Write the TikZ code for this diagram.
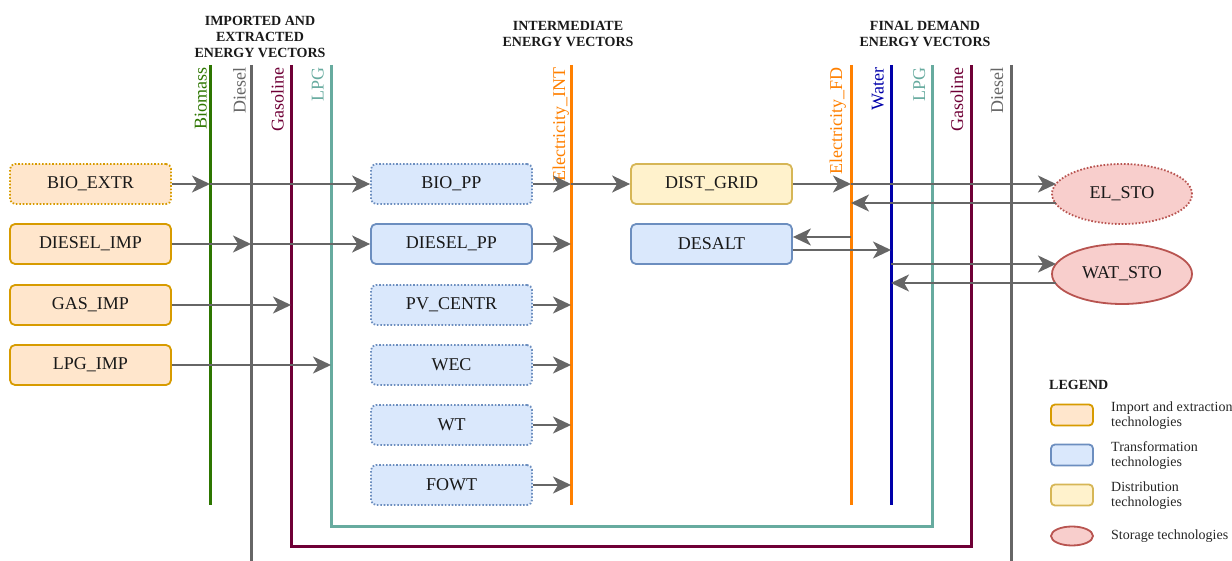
\documentclass[tikz,border=0pt]{standalone}
\usepackage{fontspec}
\setmainfont{Liberation Serif}
\usetikzlibrary{arrows.meta,calc,shapes.geometric}
\definecolor{arrgray}{HTML}{666666}
\definecolor{biog}{HTML}{2D7600}
\definecolor{gasm}{HTML}{6F0036}
\definecolor{lpgc}{HTML}{67AB9F}
\definecolor{elec}{HTML}{FF8000}
\definecolor{watc}{HTML}{0000AA}
\definecolor{impF}{HTML}{FFE6CC}
\definecolor{impD}{HTML}{D79B00}
\definecolor{trF}{HTML}{DAE8FC}
\definecolor{trD}{HTML}{6C8EBF}
\definecolor{diF}{HTML}{FFF2CC}
\definecolor{diD}{HTML}{D6B656}
\definecolor{stF}{HTML}{F8CECC}
\definecolor{stD}{HTML}{B85450}
\begin{document}
\begin{tikzpicture}[x=1pt,y=-1pt,
  tbox/.style={rounded corners=5pt, line width=1.8pt, minimum width=161pt, minimum height=40pt, inner sep=0pt, font=\fontsize{18}{20}\selectfont, text=black!90},
  imp/.style={tbox, draw=impD, fill=impF},
  trf/.style={tbox, draw=trD, fill=trF},
  dis/.style={tbox, draw=diD, fill=diF},
  sto/.style={ellipse, line width=1.8pt, draw=stD, fill=stF, minimum width=140pt, minimum height=60pt, inner sep=0pt, font=\fontsize{18}{20}\selectfont, text=black!90},
  dotb/.style={dash pattern=on 1.6pt off 1.8pt},
  bus/.style={line width=3pt},
  vlab/.style={rotate=90, anchor=base east, inner sep=0pt, font=\fontsize{18}{20}\selectfont},
  arr/.style={line width=2pt, draw=arrgray, -{Stealth[length=18pt,width=17pt,inset=5pt]}},
  hdr/.style={font=\bfseries\fontsize{14}{16}\selectfont, align=center, inner sep=0pt, text=black!90},
  legt/.style={anchor=west, align=left, inner sep=0pt, font=\fontsize{14}{15}\selectfont, text=black!85},
]
\useasboundingbox (0,0) rectangle (1232,561);

% bus coordinates
\coordinate (bioT) at (210,65);  \coordinate (bioB) at (210,505);
\coordinate (dslT) at (251,65);  \coordinate (dslB) at (251,561);
\coordinate (gasT) at (291,65);  \coordinate (gasB) at (291,546);
\coordinate (gasB2) at (971,546); \coordinate (gasT2) at (971,65);
\coordinate (lpgT) at (331,65);  \coordinate (lpgB) at (331,526);
\coordinate (lpgB2) at (932,526); \coordinate (lpgT2) at (932,65);
\coordinate (eintT) at (571,65); \coordinate (eintB) at (571,505);
\coordinate (efdT) at (851,65);  \coordinate (efdB) at (851,505);
\coordinate (watT) at (891,65);  \coordinate (watB) at (891,505);
\coordinate (dsl2T) at (1011,65); \coordinate (dsl2B) at (1011,561);

% headers
\node[hdr] (h1) at (260,37) {IMPORTED AND\\EXTRACTED\\ENERGY VECTORS};
\node[hdr] (h2) at (568,34) {INTERMEDIATE\\ENERGY VECTORS};
\node[hdr] (h3) at (925,34) {FINAL DEMAND\\ENERGY VECTORS};

% buses
\draw[bus, biog] (bioT) -- (bioB);
\draw[bus, arrgray] (dslT) -- (dslB);
\draw[bus, gasm, line join=miter] (gasT) -- (gasB) -- (gasB2) -- (gasT2);
\draw[bus, lpgc, line join=miter] (lpgT) -- (lpgB) -- (lpgB2) -- (lpgT2);
\draw[bus, elec] (eintT) -- (eintB);
\draw[bus, elec] (efdT) -- (efdB);
\draw[bus, watc] (watT) -- (watB);
\draw[bus, arrgray] (dsl2T) -- (dsl2B);

% bus labels
\node[vlab, text=biog] (lbio) at (206.5,67.5) {Biomass};
\node[vlab, text=arrgray] (ldsl) at (245.5,67.5) {Diesel};
\node[vlab, text=gasm] (lgas) at (283.5,67.5) {Gasoline};
\node[vlab, text=lpgc] (llpg) at (323.5,67.5) {LPG};
\node[vlab, text=elec] (leint) at (565,67.5) {Electricity\_INT};
\node[vlab, text=elec] (lefd) at (842,67.5) {Electricity\_FD};
\node[vlab, text=watc] (lwat) at (883.5,67.5) {Water};
\node[vlab, text=lpgc] (llpg2) at (925,67.5) {LPG};
\node[vlab, text=gasm] (lgas2) at (963,67.5) {Gasoline};
\node[vlab, text=arrgray] (ldsl2) at (1003,67.5) {Diesel};

% import boxes
\node[imp, dotb] (bioextr) at (90.5,184) {BIO\_EXTR};
\node[imp] (dieselimp) at (90.5,244) {DIESEL\_IMP};
\node[imp] (gasimp) at (90.5,305) {GAS\_IMP};
\node[imp] (lpgimp) at (90.5,365) {LPG\_IMP};

% transformation boxes
\node[trf, dotb] (biopp) at (451.5,184) {BIO\_PP};
\node[trf] (dieselpp) at (451.5,244) {DIESEL\_PP};
\node[trf, dotb] (pv) at (451.5,305) {PV\_CENTR};
\node[trf, dotb] (wec) at (451.5,365) {WEC};
\node[trf, dotb] (wt) at (451.5,425) {WT};
\node[trf, dotb] (fowt) at (451.5,485) {FOWT};

% distribution / desalination
\node[dis] (distgrid) at (711.5,184) {DIST\_GRID};
\node[trf] (desalt) at (711.5,244) {DESALT};

% storage
\node[sto, dotb] (elsto) at (1122,194) {EL\_STO};
\node[sto] (watsto) at (1122,274) {WAT\_STO};

% arrows
\draw[arr] (bioextr.east) -- (bioextr.east -| bioT);
\draw[arr] (bioextr.east -| bioT) -- (biopp.west);
\draw[arr] (dieselimp.east) -- (dieselimp.east -| dslT);
\draw[arr] (dieselimp.east -| dslT) -- (dieselpp.west);
\draw[arr] (gasimp.east) -- (gasimp.east -| gasT);
\draw[arr] (lpgimp.east) -- (lpgimp.east -| lpgT);
\foreach \n in {biopp,dieselpp,pv,wec,wt,fowt}
  \draw[arr] (\n.east) -- (\n.east -| eintT);
\draw[arr] (biopp.east -| eintT) -- (distgrid.west);
\draw[arr] (distgrid.east) -- (distgrid.east -| efdT);

\coordinate (elin) at ($(elsto.center)+(-66,-10)$);
\coordinate (elout) at ($(elsto.center)+(-66,9)$);
\draw[arr] (elin -| efdT) -- (elin);
\draw[arr] (elout) -- (elout -| efdT);

\coordinate (d1) at ($(desalt.east)+(0,-7)$);
\coordinate (d2) at ($(desalt.east)+(0,6)$);
\draw[arr] (d1 -| efdT) -- (d1);
\draw[arr] (d2) -- (d2 -| watT);

\coordinate (wsin) at ($(watsto.center)+(-66,-10)$);
\coordinate (wsout) at ($(watsto.center)+(-66,9)$);
\draw[arr] (wsin -| watT) -- (wsin);
\draw[arr] (wsout) -- (wsout -| watT);

% legend
\node[anchor=west, inner sep=0pt, font=\bfseries\fontsize{14}{16}\selectfont, text=black!90] (leg) at (1049,385) {LEGEND};
\node[imp, minimum width=42pt, minimum height=21pt, rounded corners=4pt] (l1) at (1072,415) {};
\node[trf, minimum width=42pt, minimum height=21pt, rounded corners=4pt] (l2) at (1072,455) {};
\node[dis, minimum width=42pt, minimum height=21pt, rounded corners=4pt] (l3) at (1072,495) {};
\node[sto, minimum width=42pt, minimum height=19pt] (l4) at (1072,536) {};
\node[legt] (t1) at (1111,415.5) {Import and extraction\\technologies};
\node[legt] (t2) at (1111,455.5) {Transformation\\technologies};
\node[legt] (t3) at (1111,495.5) {Distribution\\technologies};
\node[legt] (t4) at (1111,536) {Storage technologies};
\end{tikzpicture}
\end{document}
